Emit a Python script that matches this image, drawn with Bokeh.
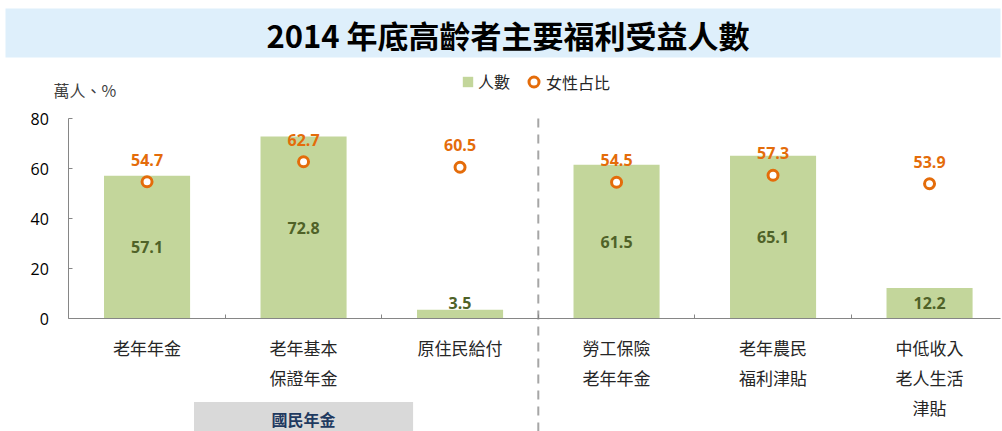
from bokeh.plotting import figure
from bokeh.models import (ColumnDataSource, LinearAxis, FixedTicker, BoxAnnotation,
                          Legend, LegendItem, Range1d)
from bokeh.core.properties import value
from bokeh.embed import file_html
from bokeh.resources import INLINE

# ---------------- data ----------------
categories = ["老年年金", "老年基本\n保證年金", "原住民給付",
              "勞工保險\n老年年金", "老年農民\n福利津貼", "中低收入\n老人生活\n津貼"]
recipients = [57.1, 72.8, 3.5, 61.5, 65.1, 12.2]      # 萬人
female_share = [54.7, 62.7, 60.5, 54.5, 57.3, 53.9]   # %
y_ticks = [0, 20, 40, 60, 80]
group_name = "國民年金"
group_members = [0, 1, 2]
title_text = "2014 年底高齡者主要福利受益人數"
unit_label = "萬人、%"
legend_labels = ["人數", "女性占比"]

# ---------------- layout helpers (canvas px -> data) ----------------
W, H = 1002, 431
AX_X, CAT_W, ZERO_Y, PX_PER = 68.3, 156.5, 318.0, 2.5


def dx(px):
    return (px - AX_X) / CAT_W - 0.5


def dy(py):
    return (ZERO_Y - py) / PX_PER


CJK = value("Noto Sans CJK TC")
NUM = value("Open Sans")
GREEN = "#C3D69B"
ORANGE = "#E46C0A"
DKGREEN = "#4F6228"
GRAY = "#868686"

xs = list(range(len(categories)))
src = ColumnDataSource(dict(
    x=xs, cat=categories, n=recipients, f=female_share,
    n_lab=[f"{v:.1f}" for v in recipients],
    n_y=[max(v / 2, 6.4) for v in recipients],
    f_lab=[f"{v:.1f}" for v in female_share],
))

p = figure(width=W, height=H,
           x_range=Range1d(dx(0), dx(W)), y_range=Range1d(dy(H), dy(0)),
           x_axis_type=None, y_axis_type=None,
           toolbar_location=None, output_backend="svg",
           min_border=0, outline_line_color=None,
           background_fill_color="white", border_fill_color="white")

# title band
p.add_layout(BoxAnnotation(left=dx(5), right=dx(1000), bottom=dy(57), top=dy(8),
                           fill_color="#DEEFFB", fill_alpha=1,
                           line_color=None, level="underlay"))
p.text(x=[dx(507.5)], y=[dy(33.5)], text=[title_text],
       text_font=CJK, text_font_size="31px", text_font_style="bold",
       text_color="black", text_align="center", text_baseline="middle")

# unit label
p.text(x=[dx(53)], y=[dy(89)], text=[unit_label], text_font=CJK,
       text_font_size="16px", text_color="#404040",
       text_align="left", text_baseline="middle")

# group box
g_c = sum(group_members) / len(group_members)
p.quad(left=[g_c - 0.7], right=[g_c + 0.7], bottom=[dy(H)], top=[dy(401.5)],
       fill_color="#D9D9D9", line_color=None)
p.text(x=[g_c], y=[dy(418)], text=[group_name], text_font=CJK,
       text_font_size="16px", text_font_style="bold", text_color="#1F3A60",
       text_align="center", text_baseline="middle")

# dashed separator between groups
sep = max(group_members) + 0.5
p.segment(x0=[sep], y0=[max(y_ticks)], x1=[sep], y1=[dy(H)],
          line_color="#A6A6A6", line_width=2, line_dash="9 7")

# bars
bars = p.vbar(x="x", top="n", width=0.55, source=src,
              fill_color=GREEN, line_color=None)
p.text(x="x", y="n_y", text="n_lab", source=src, text_font=NUM,
       text_font_size="16px", text_font_style="bold", text_color=DKGREEN,
       text_align="center", text_baseline="middle")

# female share markers
pts = p.scatter(x="x", y="f", source=src, size=10, line_width=3,
                line_color=ORANGE, fill_color="white")
p.text(x="x", y="f", text="f_lab", source=src, text_font=NUM,
       text_font_size="16px", text_font_style="bold", text_color=ORANGE,
       text_align="center", text_baseline="middle", y_offset=-22)

# category labels
p.text(x="x", y=dy(334.5), text="cat", source=src, text_font=CJK,
       text_font_size="17px", text_color="#262626", text_align="center",
       text_baseline="top", text_line_height=1.2)

# axes
yaxis = LinearAxis(fixed_location=-0.5, bounds=(0, max(y_ticks)),
                   ticker=FixedTicker(ticks=y_ticks),
                   major_tick_in=4, major_tick_out=0,
                   minor_tick_in=0, minor_tick_out=0,
                   axis_line_color=GRAY, major_tick_line_color=GRAY,
                   major_label_standoff=20,
                   major_label_text_font="Open Sans",
                   major_label_text_font_size="16px",
                   major_label_text_color="black")
p.add_layout(yaxis, "left")

bnds = [i + 0.5 for i in xs[:-1]]
xaxis = LinearAxis(fixed_location=0, bounds=(-0.5, dx(1000)),
                   ticker=FixedTicker(ticks=bnds),
                   major_tick_in=4, major_tick_out=0,
                   minor_tick_in=0, minor_tick_out=0,
                   axis_line_color=GRAY, major_tick_line_color=GRAY,
                   major_label_overrides={b: "" for b in bnds})
p.add_layout(xaxis, "below")

# legends
common = dict(orientation="horizontal", padding=0, margin=0, spacing=0,
              border_line_color=None, background_fill_alpha=0,
              label_text_font="Noto Sans CJK TC", label_text_font_size="16px",
              label_text_color="#262626")
leg1 = Legend(items=[LegendItem(label=legend_labels[0], renderers=[bars])],
              location=(461, 338), glyph_width=13, glyph_height=13,
              label_standoff=4, label_height=13, **common)
leg2 = Legend(items=[LegendItem(label=legend_labels[1], renderers=[pts])],
              location=(521, 337), glyph_width=25, glyph_height=25,
              label_standoff=0, label_height=25, **common)
p.add_layout(leg1)
p.add_layout(leg2)

open("out.html", "w").write(file_html(p, INLINE))
